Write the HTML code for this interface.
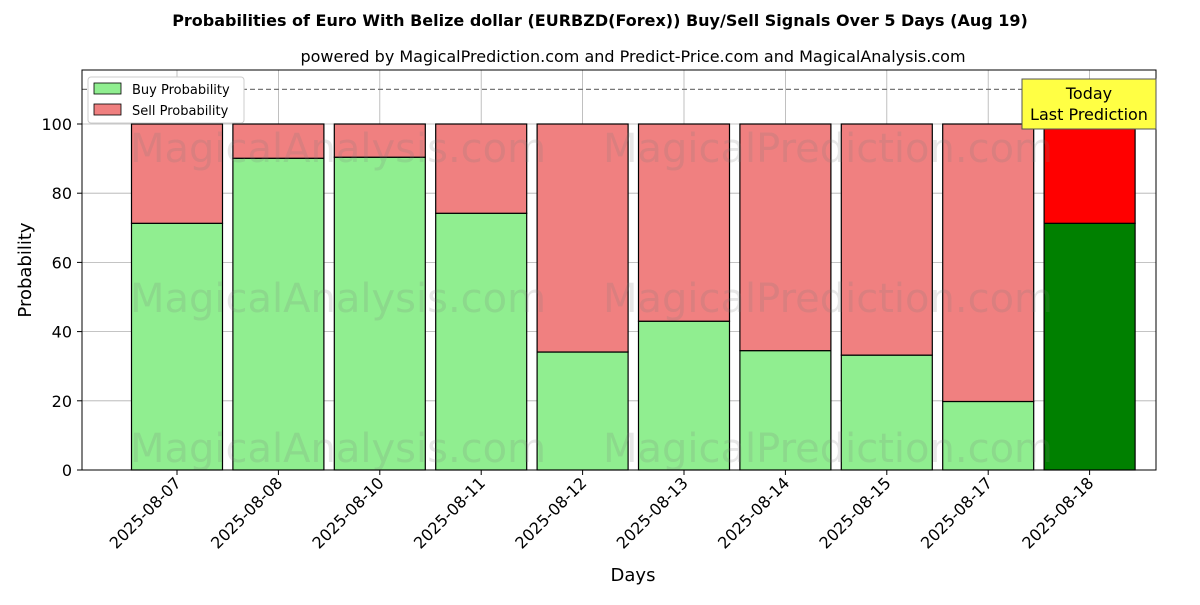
<!DOCTYPE html>
<html><head><meta charset="utf-8"><style>
body{margin:0;background:#fff;font-family:"Liberation Sans","DejaVu Sans",sans-serif}
svg text{font-family:"DejaVu Sans","Liberation Sans",sans-serif}
</style></head><body>
<svg id="chart" width="1200" height="600" xmlns="http://www.w3.org/2000/svg">
<rect width="1200" height="600" fill="#fff"/>
<text x="600" y="26" text-anchor="middle" font-size="16" font-weight="bold">Probabilities of Euro With Belize dollar (EURBZD(Forex)) Buy/Sell Signals Over 5 Days (Aug 19)</text>
<text x="633" y="62" text-anchor="middle" font-size="16">powered by MagicalPrediction.com and Predict-Price.com and MagicalAnalysis.com</text>
<g id="grid"></g>
<g id="bars"></g>
<g id="wm" font-size="40" fill="rgba(120,120,120,0.18)">
<text x="130" y="162">MagicalAnalysis.com</text><text x="603" y="162">MagicalPrediction.com</text>
<text x="130" y="312">MagicalAnalysis.com</text><text x="603" y="312">MagicalPrediction.com</text>
<text x="130" y="462">MagicalAnalysis.com</text><text x="603" y="462">MagicalPrediction.com</text>
</g>
<line x1="82" x2="1156" y1="89.4" y2="89.4" stroke="#777" stroke-dasharray="5,3" stroke-width="1.2"/>
<rect x="82" y="70" width="1074" height="400" fill="none" stroke="#000" stroke-width="1"/>
<g id="axes"></g>
<text transform="translate(31,270) rotate(-90)" text-anchor="middle" font-size="18">Probability</text>
<text x="633" y="581" text-anchor="middle" font-size="18">Days</text>
<g>
<rect x="88" y="77" width="156" height="46" rx="3" fill="#fff" stroke="#ccc"/>
<rect x="94" y="83" width="27" height="11" fill="#90ee90" stroke="#000" stroke-width="0.8"/>
<text x="132" y="94" font-size="13">Buy Probability</text>
<rect x="94" y="104" width="27" height="11" fill="#f08080" stroke="#000" stroke-width="0.8"/>
<text x="132" y="115" font-size="13">Sell Probability</text>
</g>
<g>
<rect x="1022" y="79" width="134" height="50" fill="#ffff44" stroke="#555"/>
<text x="1089" y="99" text-anchor="middle" font-size="16">Today</text>
<text x="1089" y="120" text-anchor="middle" font-size="16">Last Prediction</text>
</g>
</svg>
<script>
const categories=["2025-08-07","2025-08-08","2025-08-10","2025-08-11","2025-08-12","2025-08-13","2025-08-14","2025-08-15","2025-08-17","2025-08-18"];
const buyValues=[71.3,90.1,90.4,74.2,34.1,43.0,34.5,33.2,19.8,71.3];
const sellValues=[28.7,9.9,9.6,25.8,65.9,57.0,65.5,66.8,80.2,28.7];
const yTicks=[0,20,40,60,80,100];
const NS="http://www.w3.org/2000/svg";
const y=v=>470-v*3.46;
const x=i=>177+i*101.4;
const bw=91;
function mk(t,a,p){const e=document.createElementNS(NS,t);for(const k in a)e.setAttribute(k,a[k]);p.appendChild(e);return e;}
const grid=document.getElementById('grid'),bars=document.getElementById('bars'),axes=document.getElementById('axes');
yTicks.forEach(t=>{
 const g=mk('line',{x1:82,x2:1156,y1:y(t),y2:y(t),stroke:'#b0b0b0','stroke-width':0.8},grid);
 
 
 mk('line',{x1:77,x2:82,y1:y(t),y2:y(t),stroke:'#000'},axes);
 const l=mk('text',{x:72,y:y(t)+6,'text-anchor':'end','font-size':16},axes);l.textContent=t;
 
 
});
categories.forEach((c,i)=>{
 const gl=mk('line',{x1:x(i),x2:x(i),y1:70,y2:470,stroke:'#b0b0b0','stroke-width':0.8},grid);
 
 
 const last=i===categories.length-1;
 const b=mk('rect',{x:x(i)-bw/2,y:y(buyValues[i]),width:bw,height:y(0)-y(buyValues[i]),fill:last?'#008000':'#90ee90',stroke:'#000','stroke-width':1.2},bars);
 
 
 const s=mk('rect',{x:x(i)-bw/2,y:y(buyValues[i]+sellValues[i]),width:bw,height:y(buyValues[i])-y(buyValues[i]+sellValues[i]),fill:last?'#ff0000':'#f08080',stroke:'#000','stroke-width':1.2},bars);
 
 
 mk('line',{x1:x(i),x2:x(i),y1:470,y2:475,stroke:'#000'},axes);
 const t=mk('text',{transform:`translate(${x(i)+5},484) rotate(-45)`,'text-anchor':'end','font-size':16},axes);t.textContent=c;
 
 
});
</script>
</body></html>
